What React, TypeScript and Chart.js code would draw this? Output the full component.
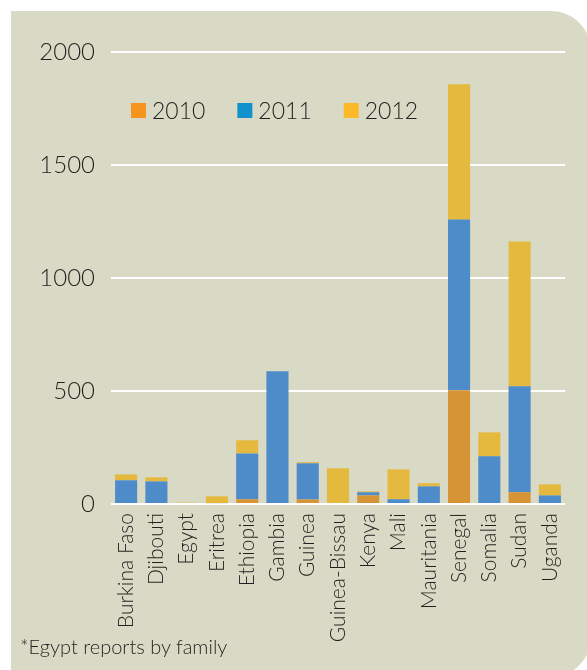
import React, { useEffect, useRef } from "react";
import { Chart, registerables } from "chart.js";

Chart.register(...registerables);

const countries = [
  "Burkina Faso", "Djibouti", "Egypt", "Eritrea", "Ethiopia", "Gambia", "Guinea",
  "Guinea-Bissau", "Kenya", "Mali", "Mauritania", "Senegal", "Somalia", "Sudan", "Uganda",
];
const years = ["2010", "2011", "2012"];
const values2010 = [0, 0, 0, 0, 21, 0, 20, 0, 38, 0, 0, 503, 0, 52, 0];
const values2011 = [105, 100, 0, 4, 203, 587, 160, 0, 14, 21, 78, 756, 211, 469, 38];
const values2012 = [26, 18, 6, 30, 58, 0, 5, 158, 4, 132, 14, 598, 106, 640, 49];
const yTicks = [0, 500, 1000, 1500, 2000];
const footnote = "*Egypt reports by family";

const barColors = ["#D79434", "#4D8BC9", "#E5B83E"];
const legendColors = ["#F7941E", "#1192CE", "#FBB829"];
const textColor = "#231F20";
const panelColor = "#D9DAC5";
const fontFamily = "Lato, 'Open Sans', sans-serif";

const legendPlugin = {
  id: "innerLegend",
  afterDraw(chart: any) {
    const { ctx, chartArea } = chart;
    const box = 15;
    let x = chartArea.left + 20;
    const y = chartArea.top + 51;
    ctx.save();
    ctx.font = `300 23px ${fontFamily}`;
    ctx.textBaseline = "middle";
    ctx.textAlign = "left";
    chart.data.datasets.forEach((ds: any, i: number) => {
      ctx.fillStyle = legendColors[i];
      ctx.fillRect(x, y, box, box);
      ctx.fillStyle = textColor;
      const tx = x + box + 6;
      ctx.fillText(ds.label, tx, y + box / 2 + 1);
      x = tx + ctx.measureText(ds.label).width + 32;
    });
    ctx.restore();
  },
};

export default function App() {
  const canvasRef = useRef<HTMLCanvasElement | null>(null);

  useEffect(() => {
    const canvas = canvasRef.current;
    if (!canvas) return;
    const seriesValues = [values2010, values2011, values2012];
    const chart = new Chart(canvas, {
      type: "bar",
      data: {
        labels: countries,
        datasets: years.map((y, i) => ({
          label: y,
          data: seriesValues[i],
          backgroundColor: barColors[i],
          borderWidth: 0,
          barPercentage: 0.73,
          categoryPercentage: 1,
        })),
      },
      options: {
        responsive: false,
        animation: false,
        layout: { padding: { top: 52, right: 22, left: 0, bottom: 0 } },
        plugins: {
          legend: { display: false },
          tooltip: { enabled: false },
        },
        scales: {
          x: {
            stacked: true,
            grid: { display: false, drawTicks: false },
            border: { display: false },
            afterFit: (scale: any) => {
              scale.height = 166;
            },
            ticks: {
              minRotation: 90,
              maxRotation: 90,
              autoSkip: false,
              padding: 9,
              color: textColor,
              font: { family: fontFamily, size: 21, weight: 300 },
            },
          },
          y: {
            stacked: true,
            min: 0,
            max: 2000,
            afterFit: (scale: any) => {
              scale.width = 111;
            },
            afterBuildTicks: (scale: any) => {
              scale.ticks = yTicks.map((v) => ({ value: v }));
            },
            grid: { color: "#FFFFFF", lineWidth: 2, drawTicks: false },
            border: { display: false },
            ticks: {
              padding: 16,
              color: textColor,
              font: { family: fontFamily, size: 24, weight: 300 },
              callback: (v: any) => String(v),
            },
          },
        },
      },
      plugins: [legendPlugin],
    });
    return () => chart.destroy();
  }, []);

  return (
    <div
      style={{
        position: "fixed",
        left: 0,
        top: 0,
        width: 587,
        height: 670,
        overflow: "hidden",
        background: "#FFFFFF",
      }}
    >
      <div
        style={{
          position: "absolute",
          left: 11,
          top: 11,
          width: 580,
          height: 666,
          background: panelColor,
          borderRadius: "0 40px 40px 0",
        }}
      />
      <canvas
        ref={canvasRef}
        width={587}
        height={670}
        style={{ position: "absolute", left: 0, top: 0, width: 587, height: 670 }}
      />
      <div
        style={{
          position: "absolute",
          left: 20,
          top: 635,
          fontFamily,
          fontWeight: 300,
          fontSize: 20,
          color: textColor,
          lineHeight: "22px",
          whiteSpace: "nowrap",
        }}
      >
        {footnote}
      </div>
    </div>
  );
}
